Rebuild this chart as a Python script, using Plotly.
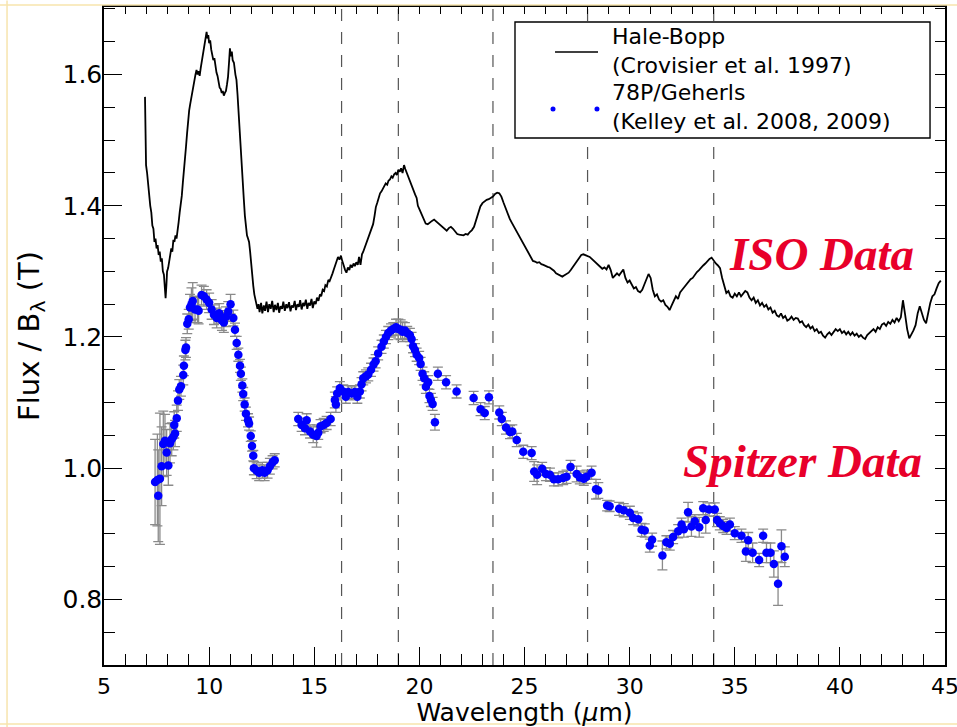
import plotly.graph_objects as go

# ---------------------------------------------------------------------------
# Hale-Bopp ISO spectrum (Crovisier et al. 1997), flux / B_lambda(T)
# ---------------------------------------------------------------------------
HB_WAVE = [
    6.95, 6.97, 7.00, 7.05, 7.10, 7.15, 7.20, 7.25, 7.30, 7.35, 7.40, 7.45, 7.50, 7.55,
    7.60, 7.65, 7.70, 7.75, 7.80, 7.85, 7.90, 7.93, 7.97, 8.00, 8.05, 8.10, 8.15, 8.20,
    8.25, 8.30, 8.35, 8.40, 8.45, 8.50, 8.55, 8.60, 8.65, 8.70, 8.75, 8.80, 8.85, 8.90,
    8.95, 9.00, 9.05, 9.10, 9.15, 9.20, 9.25, 9.30, 9.35, 9.40, 9.45, 9.50, 9.55, 9.60,
    9.65, 9.70, 9.75, 9.80, 9.85, 9.88, 9.92, 9.96, 10.00, 10.05, 10.10, 10.15, 10.20,
    10.25, 10.30, 10.35, 10.40, 10.45, 10.50, 10.55, 10.60, 10.65, 10.70, 10.75, 10.80,
    10.85, 10.90, 10.95, 10.99, 11.03, 11.08, 11.12, 11.18, 11.25, 11.30, 11.35, 11.40,
    11.45, 11.50, 11.55, 11.60, 11.65, 11.70, 11.75, 11.80, 11.85, 11.90, 11.95, 12.00,
    12.05, 12.10, 12.15, 12.20, 12.25, 12.30, 12.35, 12.40,
    12.47, 12.53, 12.60, 12.66, 12.73, 12.80, 12.86, 12.93, 13.00, 13.07, 13.13, 13.20,
    13.27, 13.33, 13.40, 13.47, 13.53, 13.60, 13.67, 13.73, 13.80, 13.87, 13.93, 14.00,
    14.07, 14.13, 14.20, 14.27, 14.33, 14.40, 14.47, 14.53, 14.60, 14.67, 14.73, 14.80,
    14.87, 14.93, 15.00, 15.07, 15.13, 15.20, 15.27, 15.33, 15.40, 15.47, 15.53, 15.60,
    15.67, 15.73, 15.80, 15.87, 15.93, 16.00, 16.07, 16.13, 16.20, 16.27, 16.33, 16.40,
    16.47, 16.53, 16.60, 16.67, 16.73, 16.80, 16.87, 16.93, 17.00, 17.07, 17.13, 17.20,
    17.27, 17.33, 17.40, 17.47, 17.53, 17.60, 17.67, 17.73, 17.80, 17.87, 17.93, 18.00,
    18.07, 18.13, 18.20, 18.27, 18.33, 18.40, 18.47, 18.53, 18.60, 18.67, 18.73, 18.80,
    18.87, 18.93, 19.00, 19.07, 19.13, 19.20, 19.27, 19.33, 19.40, 19.47, 19.53, 19.60,
    19.67, 19.73, 19.80, 19.87, 19.93, 20.00,
    20.1, 20.2, 20.3, 20.4, 20.5, 20.6, 20.7, 20.8, 20.9, 21.0, 21.1, 21.2, 21.3, 21.4,
    21.5, 21.6, 21.7, 21.8, 21.9, 22.0, 22.1, 22.2, 22.3, 22.4, 22.5, 22.6, 22.7, 22.8,
    22.9, 23.0, 23.1, 23.2, 23.3, 23.4, 23.5, 23.6, 23.7, 23.8, 23.9, 24.0, 24.1, 24.2,
    24.3, 24.4, 24.5, 24.6, 24.7, 24.8, 24.9, 25.0, 25.1, 25.2, 25.3, 25.4, 25.5, 25.6,
    25.7, 25.8, 25.9, 26.0, 26.1, 26.2, 26.3, 26.4, 26.5, 26.6, 26.7, 26.8, 26.9, 27.0,
    27.1, 27.2, 27.3, 27.4, 27.5, 27.6, 27.7, 27.8, 27.9, 28.0, 28.1, 28.2, 28.3, 28.4,
    28.5, 28.6, 28.7, 28.8, 28.9, 29.0, 29.1, 29.2, 29.3, 29.4, 29.5, 29.6, 29.7, 29.8,
    29.9, 30.0, 30.1, 30.2, 30.3, 30.4, 30.5, 30.6, 30.7, 30.8, 30.9, 31.0, 31.1, 31.2,
    31.3, 31.4, 31.5, 31.6, 31.7, 31.8, 31.9, 32.0, 32.1, 32.2, 32.3, 32.4, 32.5, 32.6,
    32.7, 32.8, 32.9, 33.0, 33.1, 33.2, 33.3, 33.4, 33.5, 33.6, 33.7, 33.8, 33.9, 34.0,
    34.1, 34.2, 34.3, 34.4, 34.5, 34.6, 34.7, 34.8, 34.9, 35.0, 35.1, 35.2, 35.3, 35.4,
    35.5, 35.6, 35.7, 35.8, 35.9, 36.0, 36.1, 36.2, 36.3, 36.4, 36.5, 36.6, 36.7, 36.8,
    36.9, 37.0, 37.1, 37.2, 37.3, 37.4, 37.5, 37.6, 37.7, 37.8, 37.9, 38.0, 38.1, 38.2,
    38.3, 38.4, 38.5, 38.6, 38.7, 38.8, 38.9, 39.0, 39.1, 39.2, 39.3, 39.4, 39.5, 39.6,
    39.7, 39.8, 39.9, 40.0, 40.1, 40.2, 40.3, 40.4, 40.5, 40.6, 40.7, 40.8, 40.9, 41.0,
    41.1, 41.2, 41.3, 41.4, 41.5, 41.6, 41.7, 41.8, 41.9, 42.0, 42.1, 42.2, 42.3, 42.4,
    42.5, 42.6, 42.7, 42.8, 42.9, 43.0, 43.1, 43.2, 43.3, 43.4, 43.5, 43.6, 43.7, 43.8,
    43.9, 44.0, 44.1, 44.2, 44.3, 44.4, 44.5, 44.6, 44.7, 44.8,
]
HB_FLUX = [
    1.566, 1.500, 1.462, 1.450, 1.430, 1.420, 1.400, 1.390, 1.370, 1.365, 1.345, 1.350, 1.335, 1.340,
    1.325, 1.330, 1.315, 1.320, 1.300, 1.295, 1.275, 1.259, 1.280, 1.300, 1.305, 1.315, 1.320, 1.335,
    1.330, 1.348, 1.345, 1.355, 1.350, 1.360, 1.375, 1.390, 1.400, 1.415, 1.435, 1.450, 1.470, 1.490,
    1.510, 1.530, 1.545, 1.555, 1.565, 1.575, 1.580, 1.590, 1.600, 1.607, 1.600, 1.605, 1.598, 1.610,
    1.620, 1.632, 1.640, 1.648, 1.658, 1.665, 1.655, 1.660, 1.648, 1.652, 1.638, 1.630, 1.622,
    1.625, 1.610, 1.603, 1.598, 1.590, 1.580, 1.578, 1.572, 1.575, 1.568, 1.572, 1.575,
    1.585, 1.597, 1.620, 1.640, 1.628, 1.635, 1.622, 1.618, 1.600, 1.592, 1.570, 1.540,
    1.510, 1.485, 1.460, 1.435, 1.410, 1.385, 1.365, 1.355, 1.350, 1.345, 1.330, 1.310,
    1.290, 1.278, 1.265, 1.255, 1.250, 1.243, 1.250, 1.238,
    1.252, 1.236, 1.248, 1.240, 1.254, 1.238, 1.250, 1.243, 1.255, 1.238, 1.249, 1.241,
    1.252, 1.237, 1.247, 1.243, 1.254, 1.240, 1.250, 1.244, 1.253, 1.239, 1.248, 1.245,
    1.255, 1.241, 1.250, 1.246, 1.256, 1.242, 1.252, 1.247, 1.257, 1.243, 1.252, 1.248,
    1.258, 1.244, 1.254, 1.250, 1.260, 1.255, 1.265, 1.262, 1.272, 1.270, 1.279, 1.277,
    1.287, 1.285, 1.293, 1.297, 1.303, 1.310, 1.318, 1.322, 1.318, 1.324, 1.316, 1.308,
    1.302, 1.298, 1.306, 1.302, 1.310, 1.306, 1.312, 1.308, 1.314, 1.310, 1.322, 1.310,
    1.326, 1.330, 1.336, 1.343, 1.348, 1.352, 1.360, 1.365, 1.372, 1.385, 1.398, 1.405,
    1.413, 1.419, 1.422, 1.428, 1.430, 1.434, 1.432, 1.438, 1.440, 1.445, 1.443, 1.448,
    1.450, 1.447, 1.455, 1.452, 1.457, 1.450, 1.462, 1.456, 1.450, 1.444, 1.438, 1.433,
    1.428, 1.420, 1.417, 1.412, 1.400, 1.395,
    1.388, 1.380, 1.373, 1.372, 1.375, 1.377, 1.379, 1.376, 1.373, 1.371, 1.368, 1.365, 1.362, 1.366,
    1.368, 1.365, 1.360, 1.357, 1.356, 1.355, 1.355, 1.357, 1.356, 1.360, 1.363, 1.368, 1.378, 1.391,
    1.399, 1.404, 1.407, 1.409, 1.410, 1.412, 1.414, 1.418, 1.420, 1.419, 1.414, 1.405, 1.396, 1.387,
    1.380, 1.374, 1.368, 1.362, 1.357, 1.351, 1.345, 1.338, 1.332, 1.326, 1.320, 1.316, 1.315, 1.313,
    1.314, 1.311, 1.310, 1.308, 1.307, 1.306, 1.304, 1.301, 1.297, 1.295, 1.293, 1.292, 1.294, 1.296,
    1.298, 1.302, 1.307, 1.312, 1.317, 1.322, 1.325, 1.326, 1.325, 1.324, 1.322, 1.319, 1.316, 1.312,
    1.309, 1.306, 1.304, 1.306, 1.303, 1.310, 1.302, 1.290, 1.293, 1.297, 1.294, 1.299, 1.303, 1.290,
    1.283, 1.286, 1.279, 1.274, 1.276, 1.270, 1.268, 1.272, 1.280, 1.289, 1.296, 1.290, 1.272, 1.262,
    1.265, 1.257, 1.254, 1.256, 1.249, 1.246, 1.241, 1.248, 1.256, 1.262, 1.258, 1.268, 1.272, 1.276,
    1.281, 1.284, 1.288, 1.290, 1.295, 1.299, 1.302, 1.306, 1.309, 1.312, 1.316, 1.319, 1.321, 1.316,
    1.312, 1.309, 1.305, 1.290, 1.276, 1.267, 1.270, 1.262, 1.260, 1.266, 1.262, 1.268, 1.262, 1.266,
    1.270, 1.268, 1.260, 1.256, 1.260, 1.252, 1.256, 1.248, 1.252, 1.246, 1.249, 1.242, 1.245, 1.237,
    1.240, 1.233, 1.231, 1.236, 1.229, 1.232, 1.225, 1.227, 1.231, 1.226, 1.229, 1.228, 1.222, 1.224,
    1.218, 1.215, 1.219, 1.213, 1.216, 1.209, 1.212, 1.206, 1.208, 1.202, 1.199, 1.204, 1.207, 1.203,
    1.208, 1.212, 1.209, 1.212, 1.206, 1.209, 1.204, 1.208, 1.203, 1.207, 1.202, 1.205, 1.200, 1.203,
    1.199, 1.197, 1.203, 1.206, 1.209, 1.212, 1.208, 1.215, 1.212, 1.219, 1.221, 1.217, 1.223, 1.220,
    1.226, 1.222, 1.229, 1.224, 1.230, 1.256, 1.235, 1.212, 1.198, 1.203, 1.210, 1.218, 1.236, 1.247,
    1.236, 1.226, 1.221, 1.238, 1.252, 1.262, 1.265, 1.274, 1.282, 1.286,
]

# ---------------------------------------------------------------------------
# 78P/Gehrels Spitzer spectrum (Kelley et al. 2008, 2009) with 1-sigma errors
# ---------------------------------------------------------------------------
SP_WAVE = [
    7.43, 7.54, 7.58, 7.66, 7.74, 7.82, 7.90, 7.98, 8.06, 8.14, 8.22, 8.30, 8.34, 8.38,
    8.46, 8.52, 8.58, 8.66, 8.77, 8.80, 8.87, 8.90, 8.96, 9.03, 9.09, 9.16, 9.22, 9.33,
    9.45, 9.50, 9.64, 9.75, 9.88, 10.00, 10.12, 10.23, 10.36, 10.48, 10.61, 10.70, 10.80,
    10.91, 11.02, 11.15, 11.23, 11.31, 11.39, 11.47, 11.51, 11.58, 11.62, 11.69, 11.75,
    11.85, 11.90, 11.98, 12.04, 12.10, 12.13, 12.26, 12.38, 12.53, 12.64, 12.78, 12.89,
    13.02, 13.12,
    14.24, 14.40, 14.56, 14.64, 14.80, 14.95, 15.11, 15.19, 15.30, 15.45, 15.59, 15.78,
    15.98, 16.03, 16.09, 16.22, 16.38, 16.50, 16.62, 16.78, 16.93, 17.05, 17.17, 17.25,
    17.33, 17.46, 17.57, 17.70, 17.82, 17.92, 18.04, 18.20, 18.31, 18.41, 18.52, 18.65,
    18.76, 18.89, 19.00, 19.11, 19.20, 19.31, 19.42, 19.55, 19.63, 19.70, 19.79, 19.87,
    19.99, 20.06, 20.15, 20.23, 20.31, 20.42, 20.48, 20.55, 20.63, 20.74, 20.88, 21.27,
    21.77, 22.58, 22.91, 23.11, 23.31, 23.80, 23.92, 24.12, 24.31, 24.42, 24.63, 24.94,
    25.34, 25.46, 25.60, 25.84, 26.02, 26.21, 26.40, 26.60, 26.84, 27.00, 27.19, 27.48,
    27.63, 27.82, 27.95, 28.19, 28.40, 28.51, 28.93, 29.05, 29.50, 29.72, 30.01, 30.17,
    30.41, 30.57, 30.72, 30.96, 31.07, 31.56, 31.75, 31.91, 32.07, 32.31, 32.47, 32.58,
    32.78, 32.94, 33.10, 33.31, 33.50, 33.62, 33.78, 34.05, 34.16, 34.29, 34.45, 34.61,
    34.77, 35.00, 35.32, 35.53, 35.64, 35.85, 36.16, 36.35, 36.51, 36.70, 36.86, 37.06,
    37.22, 37.38,
]
SP_FLUX = [
    0.979, 0.982, 0.958, 0.984, 1.003, 1.037, 1.042, 1.024, 1.004, 1.038, 1.044, 1.048, 1.066, 1.053,
    1.076, 1.103, 1.120, 1.125, 1.142, 1.156, 1.180, 1.184, 1.220, 1.227, 1.245, 1.250, 1.255, 1.242,
    1.242, 1.240, 1.264, 1.262, 1.257, 1.252, 1.242, 1.234, 1.229, 1.236, 1.225, 1.222, 1.231,
    1.239, 1.250, 1.229, 1.211, 1.191, 1.173, 1.156, 1.144, 1.126, 1.113, 1.097, 1.083,
    1.073, 1.068, 1.049, 1.034, 1.019, 1.000, 0.996, 0.993, 0.997, 0.993, 0.997, 1.003,
    1.009, 1.012,
    1.075, 1.066, 1.061, 1.073, 1.056, 1.051, 1.049, 1.054, 1.064, 1.066, 1.069, 1.075,
    1.104, 1.097, 1.114, 1.122, 1.117, 1.109, 1.116, 1.114, 1.116, 1.109, 1.117, 1.128,
    1.137, 1.140, 1.143, 1.150, 1.158, 1.163, 1.175, 1.185, 1.193, 1.200, 1.206, 1.210,
    1.212, 1.215, 1.212, 1.211, 1.208, 1.210, 1.206, 1.203, 1.197, 1.186, 1.180, 1.173,
    1.168, 1.159, 1.144, 1.137, 1.124, 1.131, 1.110, 1.104, 1.098, 1.070, 1.144, 1.131,
    1.117, 1.107, 1.090, 1.084, 1.108, 1.085, 1.075, 1.062, 1.055, 1.056, 1.043, 1.025,
    1.023, 0.995, 0.990, 0.999, 0.991, 0.990, 0.983, 0.983, 0.985, 0.987, 1.002, 0.991,
    0.986, 0.984, 0.987, 0.993, 0.968, 0.966, 0.943, 0.942, 0.938, 0.936, 0.932, 0.924,
    0.922, 0.906, 0.905, 0.882, 0.891, 0.867, 0.887, 0.885, 0.895, 0.904, 0.914, 0.907,
    0.933, 0.911, 0.919, 0.910, 0.939, 0.921, 0.937, 0.937, 0.921, 0.916, 0.912, 0.909,
    0.914, 0.901, 0.897, 0.873, 0.890, 0.871, 0.860, 0.897, 0.871, 0.871, 0.854, 0.824,
    0.881, 0.865,
]
SP_ERR = [
    0.065, 0.070, 0.070, 0.100, 0.060, 0.050, 0.040, 0.035, 0.030, 0.030, 0.025, 0.020, 0.020, 0.020,
    0.020, 0.015, 0.015, 0.015, 0.015, 0.015, 0.015, 0.015, 0.015, 0.015, 0.020, 0.025, 0.028, 0.020,
    0.020, 0.020, 0.015, 0.015, 0.015, 0.015, 0.015, 0.015, 0.015, 0.015, 0.015, 0.015, 0.015,
    0.015, 0.015, 0.012, 0.010, 0.010, 0.010, 0.010, 0.010, 0.010, 0.010, 0.010, 0.010,
    0.010, 0.010, 0.008, 0.008, 0.008, 0.010, 0.012, 0.012, 0.012, 0.012, 0.012, 0.012,
    0.010, 0.010,
    0.010, 0.010, 0.010, 0.010, 0.010, 0.012, 0.017, 0.010, 0.010, 0.010, 0.010, 0.010,
    0.012, 0.012, 0.010, 0.010, 0.010, 0.010, 0.010, 0.010, 0.010, 0.010, 0.010, 0.010,
    0.010, 0.010, 0.010, 0.010, 0.010, 0.010, 0.010, 0.010, 0.010, 0.010, 0.010, 0.010,
    0.010, 0.012, 0.015, 0.015, 0.015, 0.012, 0.010, 0.010, 0.010, 0.010, 0.010, 0.010,
    0.010, 0.010, 0.010, 0.010, 0.010, 0.010, 0.010, 0.010, 0.010, 0.012, 0.010, 0.010,
    0.010, 0.010, 0.010, 0.010, 0.010, 0.010, 0.010, 0.010, 0.010, 0.010, 0.010, 0.010,
    0.010, 0.015, 0.015, 0.010, 0.010, 0.010, 0.010, 0.010, 0.010, 0.010, 0.010, 0.012,
    0.010, 0.010, 0.010, 0.010, 0.015, 0.012, 0.008, 0.008, 0.010, 0.010, 0.010, 0.010,
    0.010, 0.010, 0.010, 0.010, 0.010, 0.022, 0.010, 0.010, 0.010, 0.010, 0.010, 0.012,
    0.015, 0.015, 0.010, 0.015, 0.010, 0.020, 0.010, 0.010, 0.010, 0.010, 0.010, 0.010,
    0.010, 0.010, 0.010, 0.015, 0.012, 0.015, 0.010, 0.010, 0.015, 0.015, 0.020, 0.033,
    0.025, 0.015,
]

# Emission-feature wavelengths marked with dashed guide lines (micron)
FEATURE_WAVES = [16.3, 19.0, 23.5, 28.0, 34.0]

X_RANGE = [5, 45]
Y_RANGE = [0.70, 1.703]

FONT = "DejaVu Sans"
RED = "#e8002a"

fig = go.Figure()

fig.add_trace(go.Scatter(
    x=HB_WAVE, y=HB_FLUX, mode="lines",
    line=dict(color="black", width=1.8),
    name="Hale-Bopp (Crovisier et al. 1997)", showlegend=False,
))

fig.add_trace(go.Scatter(
    x=SP_WAVE, y=SP_FLUX, mode="markers",
    marker=dict(color="#0000ff", size=8.5, line=dict(width=0)),
    error_y=dict(type="data", array=SP_ERR, visible=True,
                 color="#8a8a8a", thickness=1.3, width=5),
    name="78P/Geherls (Kelley et al. 2008, 2009)", showlegend=False,
))

# empty trace that carries the top/right tick-only axes
fig.add_trace(go.Scatter(x=[], y=[], xaxis="x2", yaxis="y2",
                         showlegend=False, hoverinfo="skip"))

shapes = []
for w in FEATURE_WAVES:
    shapes.append(dict(type="line", xref="x", yref="paper", x0=w, x1=w, y0=0, y1=1,
                       line=dict(color="#555555", width=1.2, dash="12px,11px"),
                       layer="below"))

# Legend box drawn by hand (line sample + two-dot marker sample)
shapes.append(dict(type="rect", xref="paper", yref="paper",
                   x0=0.4887, x1=0.9822, y0=0.8009, y1=0.9772,
                   line=dict(color="black", width=1.4), fillcolor="white", layer="above"))
shapes.append(dict(type="line", xref="paper", yref="paper",
                   x0=0.5363, x1=0.5874, y0=0.9316, y1=0.9316,
                   line=dict(color="black", width=1.6), layer="above"))
for cx in (0.5339, 0.5862):
    r_x = 2.5 / 841
    r_y = 2.5 / 658
    shapes.append(dict(type="circle", xref="paper", yref="paper",
                       x0=cx - r_x, x1=cx + r_x, y0=0.845 - r_y, y1=0.845 + r_y,
                       line=dict(color="#0000ff", width=0), fillcolor="#0000ff",
                       layer="above"))

# Thin page frame
FRAME = "#f7e4ad"
shapes += [
    dict(type="line", xref="paper", yref="paper", x0=-0.124, x1=1.02, y0=1.003, y1=1.003,
         line=dict(color=FRAME, width=1.5)),
    dict(type="line", xref="paper", yref="paper", x0=-0.1153, x1=-0.1153, y0=-0.095, y1=1.01,
         line=dict(color=FRAME, width=1.5)),
    dict(type="line", xref="paper", yref="paper", x0=-0.124, x1=1.02, y0=-0.0897, y1=-0.0897,
         line=dict(color=FRAME, width=1.5)),
]

annotations = [
    dict(xref="paper", yref="paper", x=0.6015, y=0.9325, xanchor="left", yanchor="middle",
         text="Hale-Bopp<br>(Crovisier et al. 1997)", showarrow=False, align="left",
         font=dict(family=FONT, size=22, color="black")),
    dict(xref="paper", yref="paper", x=0.6015, y=0.848, xanchor="left", yanchor="middle",
         text="78P/Geherls<br>(Kelley et al. 2008, 2009)", showarrow=False, align="left",
         font=dict(family=FONT, size=22, color="black")),
    dict(xref="x", yref="y", x=39.14, y=1.327, xanchor="center", yanchor="middle",
         text="<b><i>ISO Data</i></b>", showarrow=False,
         font=dict(family="Liberation Serif", size=47, color=RED)),
    dict(xref="x", yref="y", x=38.22, y=1.011, xanchor="center", yanchor="middle",
         text="<b><i>Spitzer Data</i></b>", showarrow=False,
         font=dict(family="Liberation Serif", size=47, color=RED)),
]

axis_common = dict(
    showline=True, linecolor="black", linewidth=1.5, mirror=True,
    ticks="inside", tickwidth=1.3, tickcolor="black",
    showgrid=False, zeroline=False, automargin=False,
)

fig.update_layout(
    width=957, height=727,
    margin=dict(l=104, r=12, t=7, b=62),
    paper_bgcolor="white", plot_bgcolor="white",
    shapes=shapes, annotations=annotations,
    xaxis=dict(
        range=X_RANGE, tick0=5, dtick=5, ticklen=18, ticklabelstandoff=1,
        ticklabeloverflow="allow",
        tickfont=dict(family=FONT, size=22, color="black"),
        minor=dict(dtick=1, ticks="inside", ticklen=11, tickwidth=1.1, tickcolor="black"),
        title=dict(text="Wavelength (<i>μ</i>m)", standoff=5,
                   font=dict(family=FONT, size=25, color="black")),
        **axis_common,
    ),
    yaxis=dict(
        range=Y_RANGE, tick0=0, dtick=0.2, tickformat=".1f", ticklen=18,
        ticklabelstandoff=-5,
        tickfont=dict(family=FONT, size=25, color="black"),
        minor=dict(dtick=0.05, ticks="inside", ticklen=11, tickwidth=1.1, tickcolor="black"),
        title=dict(text="Flux / B<sub>λ</sub> (T)", standoff=14,
                   font=dict(family=FONT, size=29, color="black")),
        **axis_common,
    ),
    xaxis2=dict(
        overlaying="x", side="top", anchor="y", matches="x", range=X_RANGE,
        tick0=5, dtick=1, ticks="inside", ticklen=7, tickwidth=1.1, tickcolor="black",
        showticklabels=False, showgrid=False, zeroline=False, showline=False,
        automargin=False,
    ),
    yaxis2=dict(
        overlaying="y", side="right", anchor="x", matches="y", range=Y_RANGE,
        tick0=0, dtick=0.05, ticks="inside", ticklen=10, tickwidth=1.1, tickcolor="black",
        showticklabels=False, showgrid=False, zeroline=False, showline=False,
        automargin=False,
    ),
)

fig.write_html("out.html")
